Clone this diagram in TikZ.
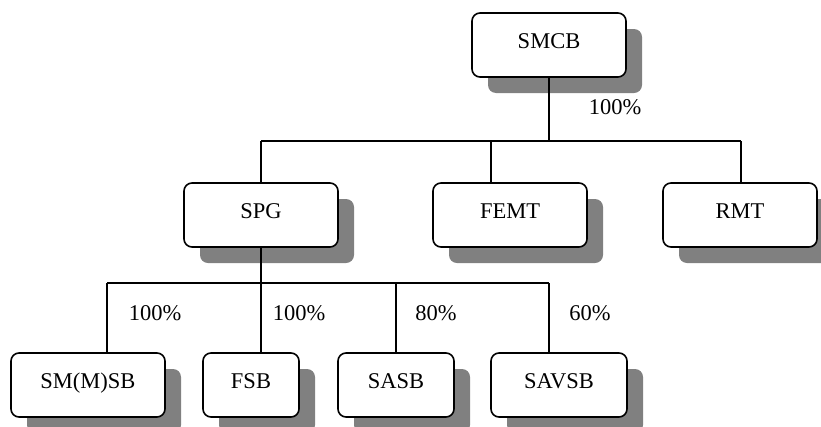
\documentclass[tikz,border=0pt]{standalone}
\usepackage{fontspec}
\setmainfont{Liberation Serif}
\usetikzlibrary{shadows}
\begin{document}
\begin{tikzpicture}[x=1pt,y=-1pt,
  orgbox/.style={draw=black, line width=1.6pt, rounded corners=8pt, fill=white,
    minimum height=64pt, inner sep=0pt, text height=15pt, text depth=9pt,
    font=\fontsize{22.5}{27}\selectfont,
    drop shadow={shadow xshift=16pt, shadow yshift=-16pt, fill=gray, opacity=1}},
  conn/.style={draw=black, line width=1.6pt},
  pct/.style={font=\fontsize{22.5}{27}\selectfont, inner sep=0pt}]
\useasboundingbox (0,0) rectangle (821,426);
% boxes
\node[orgbox, minimum width=154pt] (smcb) at (549,45) {SMCB};
\node[orgbox, minimum width=154pt] (spg) at (261,215) {SPG};
\node[orgbox, minimum width=154pt] (femt) at (510,215) {FEMT};
\node[orgbox, minimum width=154pt] (rmt) at (740,215) {RMT};
\node[orgbox, minimum width=154pt] (smmsb) at (88,385) {SM(M)SB};
\node[orgbox, minimum width=96pt] (fsb) at (251,385) {FSB};
\node[orgbox, minimum width=116pt] (sasb) at (396,385) {SASB};
\node[orgbox, minimum width=136pt] (savsb) at (559,385) {SAVSB};
% junction coordinates
\coordinate (busA) at (261,141);
\coordinate (busB) at (741,141);
\coordinate (femtin) at (491,183);
\coordinate (busC) at (107,283);
\coordinate (busD) at (549,283);
\coordinate (smmsbin) at (107,353);
\coordinate (fsbin) at (261,353);
\coordinate (savsbin) at (549,353);
% connectors
\draw[conn] (smcb.south) -- (smcb.south |- busA);
\draw[conn] (busA) -- (busB);
\draw[conn] (busA) -- (spg.north);
\draw[conn] (femtin |- busA) -- (femtin);
\draw[conn] (busB) -- (busB |- rmt.north);
\draw[conn] (spg.south) -- (spg.south |- busC);
\draw[conn] (busC) -- (busD);
\draw[conn] (busC) -- (smmsbin);
\draw[conn] (fsbin |- busC) -- (fsbin);
\draw[conn] (sasb.north |- busC) -- (sasb.north);
\draw[conn] (busD) -- (savsbin);
% labels
\node[pct] (p0) at (615,107) {100\%};
\node[pct] (p1) at (155,313) {100\%};
\node[pct] (p2) at (299,313) {100\%};
\node[pct] (p3) at (436,313) {80\%};
\node[pct] (p4) at (590,313) {60\%};
\end{tikzpicture}
\end{document}
